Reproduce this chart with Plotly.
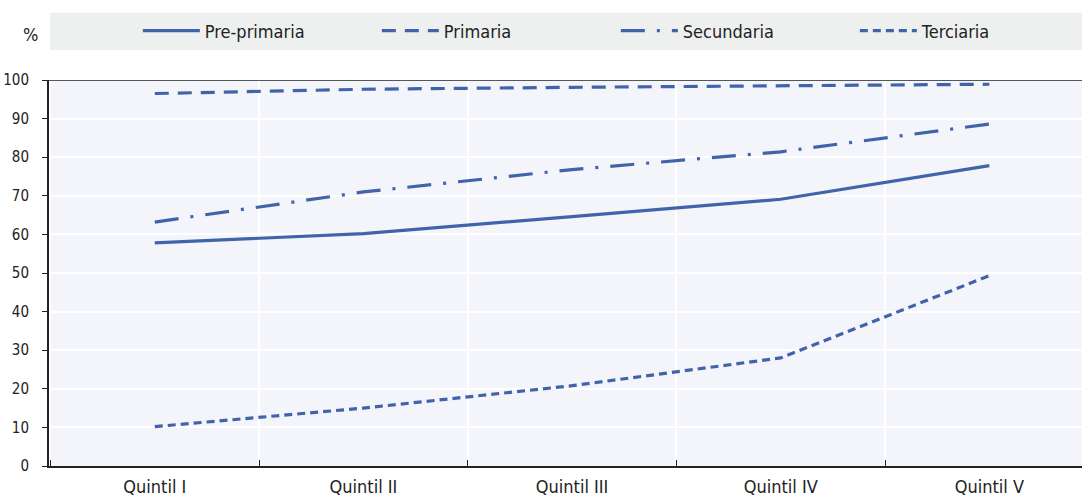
import plotly.graph_objects as go

quintiles = ["Quintil I", "Quintil II", "Quintil III", "Quintil IV", "Quintil V"]
pre_primaria = [57.8, 60.2, 64.6, 69.1, 77.8]
primaria = [96.5, 97.6, 98.1, 98.5, 98.9]
secundaria = [63.2, 71.0, 76.8, 81.4, 88.6]
terciaria = [10.2, 15.0, 20.8, 28.0, 49.3]

blue = "#4163AA"
font_family = "DejaVu Sans Condensed, Liberation Sans, Arial"

series = [
    ("Pre-primaria", pre_primaria, "solid"),
    ("Primaria", primaria, "14px,9px"),
    ("Secundaria", secundaria, "24px,12px,3px,12px"),
    ("Terciaria", terciaria, "8px,5px"),
]

fig = go.Figure()
for name, vals, dash in series:
    fig.add_trace(go.Scatter(
        x=quintiles, y=vals, name=name, mode="lines",
        line=dict(color=blue, width=3.2, dash=dash),
    ))

# grey legend band
fig.add_shape(type="rect", xref="paper", yref="paper",
              x0=0.001, x1=1.0, y0=1.078, y1=1.174,
              fillcolor="#EEF0F0", line_width=0, layer="below")
# dark top border at 100
fig.add_shape(type="line", xref="paper", yref="y",
              x0=0, x1=1, y0=100, y1=100,
              line=dict(color="#222222", width=1.5))

fig.add_annotation(text="%", xref="paper", yref="paper", x=-0.018, y=1.117,
                   showarrow=False, font=dict(size=18, color="#222222"),
                   xanchor="center", yanchor="middle")

fig.update_layout(
    width=1082, height=496,
    margin=dict(l=49, r=0, t=80, b=30, autoexpand=False),
    paper_bgcolor="white",
    plot_bgcolor="#F4F5FA",
    font=dict(family=font_family, size=16, color="#222222"),
    legend=dict(orientation="h", x=0.086, y=1.127, xanchor="left", yanchor="middle",
                bgcolor="rgba(0,0,0,0)", font=dict(size=18),
                entrywidth=167, itemwidth=57, traceorder="normal"),
    showlegend=True,
)
fig.update_xaxes(
    range=[-0.507, 4.444], tickson="boundaries", showgrid=True,
    gridcolor="white", gridwidth=1.5, ticks="inside", ticklen=6,
    tickcolor="#222222", showline=True, linecolor="#222222", linewidth=2,
    tickfont=dict(size=18), automargin=False, ticklabelstandoff=3,
)
fig.update_yaxes(
    range=[0, 100], dtick=10, showgrid=True, gridcolor="white", gridwidth=1.5,
    ticks="outside", ticklen=5, tickcolor="#222222", showline=True,
    linecolor="#222222", linewidth=2, tickfont=dict(size=15), zeroline=False,
    automargin=False, ticklabelstandoff=10,
)

# remove the default page margin so the figure fills the window
fig.write_html("out.html", config={"displayModeBar": False},
               post_script="document.body.style.margin='0';document.body.style.overflow='hidden';")
